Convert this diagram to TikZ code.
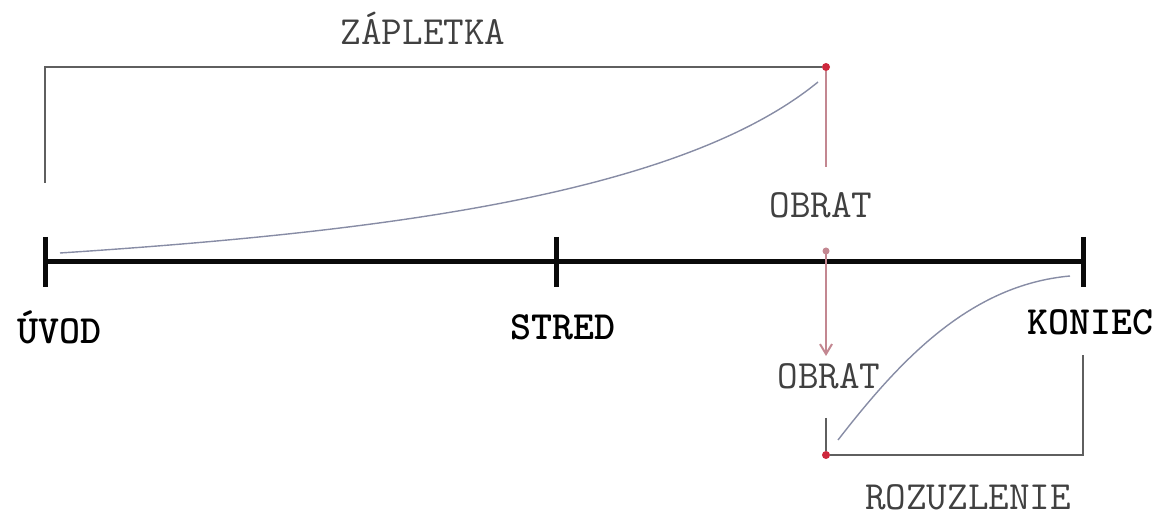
\documentclass[tikz,border=0pt]{standalone}
\usetikzlibrary{arrows.meta}
\definecolor{AxisBlack}{RGB}{10,10,10}
\definecolor{FrameGray}{RGB}{95,95,95}
\definecolor{CurveGray}{RGB}{135,140,165}
\definecolor{TurnRed}{RGB}{205,40,60}
\definecolor{TurnPink}{RGB}{195,135,145}
\tikzset{
  axisline/.style={line width=2.5pt, AxisBlack},
  tickmark/.style={line width=2.5pt, AxisBlack},
  framelbl/.style={font=\ttfamily\fontsize{20}{22}\selectfont, text=black!75, inner sep=1pt},
  partlbl/.style={font=\ttfamily\bfseries\fontsize{20}{22}\selectfont, inner sep=1pt},
  frameline/.style={FrameGray, line width=0.9pt},
  curveline/.style={CurveGray, line width=0.7pt},
  turnline/.style={TurnPink, line width=1pt},
  turndot/.style={circle, fill=TurnRed, inner sep=0pt, minimum size=4pt},
}

\begin{document}
\begin{tikzpicture}[x=0.5pt, y=-0.5pt]
  \useasboundingbox (0,0) rectangle (1158,523);
  % axis
  \coordinate (uvod) at (45,262);
  \coordinate (stred) at (556,262);
  \coordinate (koniec) at (1083,262);
  \draw[axisline] (uvod) -- (koniec);
  \foreach \p in {uvod, stred, koniec}
    \draw[tickmark] (\p) ++(0,-25) -- ++(0,50);
  \node[partlbl] (uvodlbl) at (60,327) {ÚVOD};
  \node[partlbl] (stredlbl) at (563,327) {STRED};
  \node[partlbl] (konieclbl) at (1090,322) {KONIEC};

  % zapletka
  \node[framelbl] (zapl) at (423,28) {ZÁPLETKA};
  \coordinate (zfoot) at (45,183);
  \coordinate (zcorner) at (45,67);
  \node[turndot] (ztop) at (826,67) {};
  \draw[frameline] (zfoot) -- (zcorner) -- (ztop);
  \draw[curveline] (60,253) .. controls (380,232) and (680,195) .. (818,82);

  % obrat
  \node[framelbl] (obrat1) at (821,205) {OBRAT};
  \node[framelbl] (obrat2) at (829,376) {OBRAT};
  \coordinate (o1top) at (826,167);
  \coordinate (axturn) at (826,251);
  \coordinate (o2tip) at (826,356);
  \coordinate (o2foot) at (826,418);
  \draw[turnline] (ztop) -- (o1top);
  \fill[TurnPink] (axturn) circle (3.5);
  \draw[turnline, -{Straight Barb[length=5pt, width=6pt]}] (axturn) -- (o2tip);

  % rozuzlenie
  \node[turndot] (rbot) at (826,455) {};
  \coordinate (rcorner) at (1083,455);
  \coordinate (rtop) at (1083,355);
  \draw[frameline] (o2foot) -- (rbot);
  \draw[frameline] (rbot) -- (rcorner) -- (rtop);
  \draw[curveline] (838,440) .. controls (900,360) and (970,285) .. (1070,276);
  \node[framelbl] (rozu) at (968,497) {ROZUZLENIE};
\end{tikzpicture}
\end{document}
